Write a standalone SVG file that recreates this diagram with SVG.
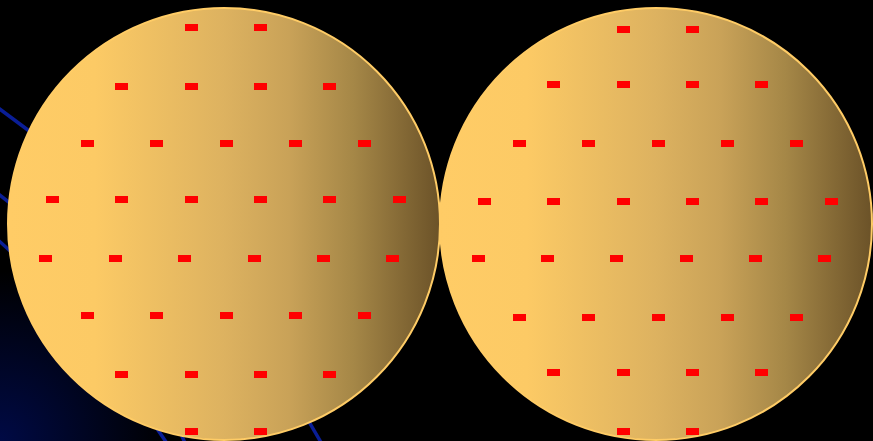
<svg xmlns="http://www.w3.org/2000/svg" width="873" height="441" viewBox="0 0 873 441">
<defs>
<linearGradient id="wafer" x1="0" y1="0" x2="1" y2="0">
<stop offset="0" stop-color="#FFCC66"/>
<stop offset="0.2" stop-color="#FCCA65"/>
<stop offset="0.5" stop-color="#DDB260"/>
<stop offset="0.65" stop-color="#C9A258"/>
<stop offset="0.8" stop-color="#A58747"/>
<stop offset="1" stop-color="#6B5228"/>
</linearGradient>
<radialGradient id="glow" cx="0" cy="441" r="170" gradientUnits="userSpaceOnUse">
<stop offset="0" stop-color="#000A45"/>
<stop offset="1" stop-color="#000000"/>
</radialGradient>
<style>
.arc{fill:none;stroke:#0A1E96;stroke-width:3.5}
.wafer{fill:url(#wafer);stroke:#FFCC66;stroke-width:2}
.die{fill:#FF0000}
</style>
</defs>
<rect width="873" height="441" fill="#000"/>
<rect x="0" y="270" width="180" height="171" fill="url(#glow)"/>
<g id="arcs">
<path class="arc" d="M -10 102 Q 250 290 335 470"/>
<path class="arc" d="M -10 188 Q 120 280 192 460"/>
<path class="arc" d="M -10 233 Q 80 310 178 460"/>
</g>
<g id="wafer-left">
<circle class="wafer" cx="224" cy="224" r="216"/>
<g>
<rect class="die" x="185" y="24" width="13" height="7"/><rect class="die" x="254" y="24" width="13" height="7"/>
<rect class="die" x="115" y="83" width="13" height="7"/><rect class="die" x="185" y="83" width="13" height="7"/><rect class="die" x="254" y="83" width="13" height="7"/><rect class="die" x="323" y="83" width="13" height="7"/>
<rect class="die" x="81" y="140" width="13" height="7"/><rect class="die" x="150" y="140" width="13" height="7"/><rect class="die" x="220" y="140" width="13" height="7"/><rect class="die" x="289" y="140" width="13" height="7"/><rect class="die" x="358" y="140" width="13" height="7"/>
<rect class="die" x="46" y="196" width="13" height="7"/><rect class="die" x="115" y="196" width="13" height="7"/><rect class="die" x="185" y="196" width="13" height="7"/><rect class="die" x="254" y="196" width="13" height="7"/><rect class="die" x="323" y="196" width="13" height="7"/><rect class="die" x="393" y="196" width="13" height="7"/>
<rect class="die" x="39" y="255" width="13" height="7"/><rect class="die" x="109" y="255" width="13" height="7"/><rect class="die" x="178" y="255" width="13" height="7"/><rect class="die" x="248" y="255" width="13" height="7"/><rect class="die" x="317" y="255" width="13" height="7"/><rect class="die" x="386" y="255" width="13" height="7"/>
<rect class="die" x="81" y="312" width="13" height="7"/><rect class="die" x="150" y="312" width="13" height="7"/><rect class="die" x="220" y="312" width="13" height="7"/><rect class="die" x="289" y="312" width="13" height="7"/><rect class="die" x="358" y="312" width="13" height="7"/>
<rect class="die" x="115" y="371" width="13" height="7"/><rect class="die" x="185" y="371" width="13" height="7"/><rect class="die" x="254" y="371" width="13" height="7"/><rect class="die" x="323" y="371" width="13" height="7"/>
<rect class="die" x="185" y="428" width="13" height="7"/><rect class="die" x="254" y="428" width="13" height="7"/>
</g>
</g>
<g id="wafer-right">
<circle class="wafer" cx="656" cy="224" r="216"/>
<g>
<rect class="die" x="617" y="26" width="13" height="7"/><rect class="die" x="686" y="26" width="13" height="7"/>
<rect class="die" x="547" y="81" width="13" height="7"/><rect class="die" x="617" y="81" width="13" height="7"/><rect class="die" x="686" y="81" width="13" height="7"/><rect class="die" x="755" y="81" width="13" height="7"/>
<rect class="die" x="513" y="140" width="13" height="7"/><rect class="die" x="582" y="140" width="13" height="7"/><rect class="die" x="652" y="140" width="13" height="7"/><rect class="die" x="721" y="140" width="13" height="7"/><rect class="die" x="790" y="140" width="13" height="7"/>
<rect class="die" x="478" y="198" width="13" height="7"/><rect class="die" x="547" y="198" width="13" height="7"/><rect class="die" x="617" y="198" width="13" height="7"/><rect class="die" x="686" y="198" width="13" height="7"/><rect class="die" x="755" y="198" width="13" height="7"/><rect class="die" x="825" y="198" width="13" height="7"/>
<rect class="die" x="472" y="255" width="13" height="7"/><rect class="die" x="541" y="255" width="13" height="7"/><rect class="die" x="610" y="255" width="13" height="7"/><rect class="die" x="680" y="255" width="13" height="7"/><rect class="die" x="749" y="255" width="13" height="7"/><rect class="die" x="818" y="255" width="13" height="7"/>
<rect class="die" x="513" y="314" width="13" height="7"/><rect class="die" x="582" y="314" width="13" height="7"/><rect class="die" x="652" y="314" width="13" height="7"/><rect class="die" x="721" y="314" width="13" height="7"/><rect class="die" x="790" y="314" width="13" height="7"/>
<rect class="die" x="547" y="369" width="13" height="7"/><rect class="die" x="617" y="369" width="13" height="7"/><rect class="die" x="686" y="369" width="13" height="7"/><rect class="die" x="755" y="369" width="13" height="7"/>
<rect class="die" x="617" y="428" width="13" height="7"/><rect class="die" x="686" y="428" width="13" height="7"/>
</g>
</g>
</svg>
